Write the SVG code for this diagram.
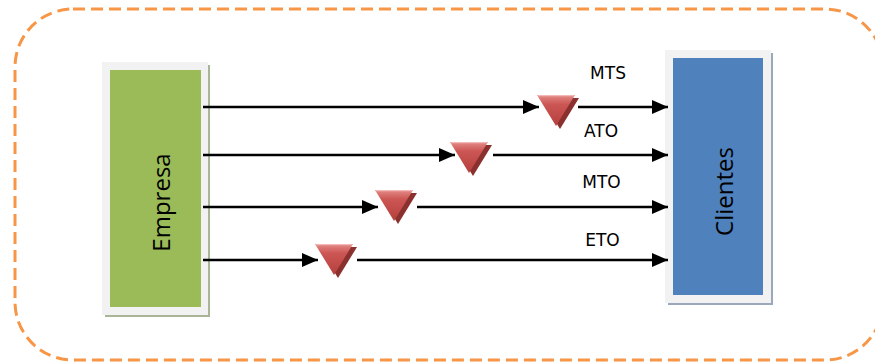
<svg xmlns="http://www.w3.org/2000/svg" width="875" height="362" viewBox="0 0 875 362">
  <style>
    .frame { fill: #f2f2f2; }
    .lbl { font-family: "DejaVu Sans", Verdana, sans-serif; font-size: 17px; fill: #000; text-anchor: middle; }
    .big { font-family: "Open Sans", "Noto Sans", sans-serif; font-size: 24px; fill: #000; text-anchor: middle; }
    .flow { stroke: #000; stroke-width: 2.5; fill: none; marker-end: url(#head); }
    .tri { fill: url(#triFace); }
    .triShade { fill: #8a302e; }
  </style>
  <defs>
    <marker id="head" viewBox="0 0 16 14" refX="16" refY="7" markerWidth="16" markerHeight="14" markerUnits="userSpaceOnUse" orient="auto">
      <path d="M0,0 L16,7 L0,14 z" fill="#000"/>
    </marker>
    <linearGradient id="triFace" x1="0" y1="0" x2="0" y2="1">
      <stop offset="0" stop-color="#e48b88"/>
      <stop offset="0.3" stop-color="#cc5653"/>
      <stop offset="1" stop-color="#b53f3c"/>
    </linearGradient>
    <!-- inverted triangle symbol: front face over a darker offset back -->
    <g id="inv">
      <path class="triShade" d="M4,3 L42,3 L23,34 z"/>
      <path class="tri" d="M0,0 L38,0 L19,31 z"/>
      <path d="M1,0.6 L37,0.6" stroke="#f3b8b6" stroke-width="1.2"/>
    </g>
  </defs>

  <!-- dashed outer boundary -->
  <rect x="15" y="9" width="868" height="351" rx="58" ry="58" fill="none" stroke="#f79646" stroke-width="3" stroke-dasharray="12 6"/>

  <g id="empresa">
    <rect x="105" y="65" width="105" height="252" fill="#a9b596"/>
    <rect class="frame" x="102" y="62" width="106" height="253"/>
    <rect x="110" y="70" width="91" height="237" fill="#9bbb59"/>
    <text class="big" transform="translate(170,202.5) rotate(-90)">Empresa</text>
  </g>

  <g id="clientes">
    <rect x="668" y="53" width="105" height="252" fill="#9ba8bc"/>
    <rect class="frame" x="665" y="50" width="106" height="253"/>
    <rect x="673" y="58" width="90" height="237" fill="#4f81bd"/>
    <text class="big" transform="translate(733,191.5) rotate(-90)">Clientes</text>
  </g>

  <g id="connectors">
    <!-- MTS -->
    <path class="flow" d="M203,107 L539,107"/>
    <path class="flow" d="M578,107 L668,107"/>
    <!-- ATO -->
    <path class="flow" d="M203,155 L455,155"/>
    <path class="flow" d="M493,155 L668,155"/>
    <!-- MTO -->
    <path class="flow" d="M203,207 L378,207"/>
    <path class="flow" d="M417,207 L668,207"/>
    <!-- ETO -->
    <path class="flow" d="M203,260 L318,260"/>
    <path class="flow" d="M357,260 L668,260"/>
  </g>

  <g id="buffer-mts"><use href="#inv" x="537" y="95"/></g>
  <g id="buffer-ato"><use href="#inv" x="450" y="142"/></g>
  <g id="buffer-mto"><use href="#inv" x="375" y="190"/></g>
  <g id="buffer-eto"><use href="#inv" x="315" y="244"/></g>

  <g id="labels">
    <text class="lbl" x="608" y="79">MTS</text>
    <text class="lbl" x="601" y="137">ATO</text>
    <text class="lbl" x="601.5" y="188">MTO</text>
    <text class="lbl" x="602.5" y="246">ETO</text>
  </g>
</svg>
